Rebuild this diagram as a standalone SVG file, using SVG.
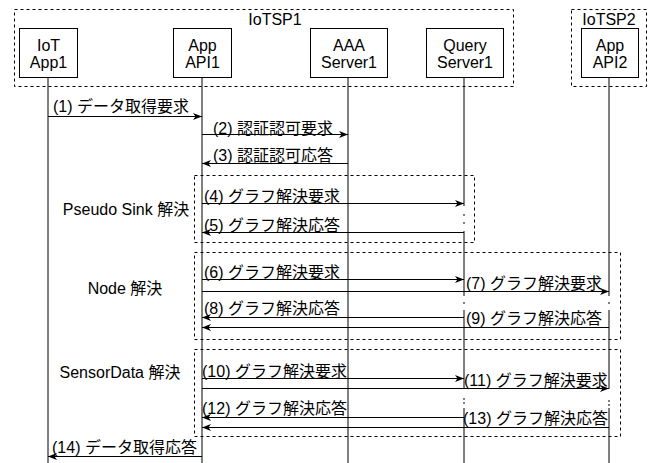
<svg xmlns="http://www.w3.org/2000/svg" width="654" height="463" viewBox="0 0 654 463">
<style>
text{font-family:"Liberation Sans","Noto Sans CJK JP",sans-serif;font-size:16px;fill:#000}
.c{text-anchor:middle}
.box{fill:#fff;stroke:#000;stroke-width:1}
.grp{fill:none;stroke:#000;stroke-width:1;stroke-dasharray:3 3}
.life{stroke:#000;stroke-width:1;fill:none}
.msg{stroke:#000;stroke-width:1;fill:none;marker-end:url(#ah)}
</style>
<defs>
<marker id="ah" markerUnits="userSpaceOnUse" markerWidth="10" markerHeight="8" refX="9" refY="3.5" orient="auto">
<path d="M0,0 L9,3.5 L0,7 L2.5,3.5 z" fill="#000"/>
</marker>
</defs>
<rect width="654" height="463" fill="#fff"/>
<g id="groups">
<rect class="grp" x="14.5" y="9.5" width="499" height="77"/>
<text class="c" x="275" y="25">IoTSP1</text>
<rect class="grp" x="571.5" y="9.5" width="75" height="77"/>
<text class="c" x="609" y="25">IoTSP2</text>
<rect class="grp" x="194.5" y="175.5" width="280" height="67"/>
<rect class="grp" x="194.5" y="252.5" width="426" height="87"/>
<rect class="grp" x="194.5" y="349.5" width="426" height="87"/>
<text class="c" x="126" y="215">Pseudo Sink 解決</text>
<text class="c" x="125" y="294">Node 解決</text>
<text class="c" x="120" y="378">SensorData 解決</text>
</g>
<g id="lifelines">
<line class="life" x1="48" y1="77" x2="48" y2="463"/>
<line class="life" x1="202" y1="77" x2="202" y2="463"/>
<line class="life" x1="348" y1="77" x2="348" y2="463"/>
<path class="life" d="M464,77 V206 M464,214 V216 M464,222 V224 M464,231 V296 M464,302 V304 M464,310 V389 M464,398 V400 M464,402 V404 M464,408 V463"/>
<path class="life" d="M609,77 V296 M609,302 V304 M609,310 V389 M609,400 V402 M609,404 V406 M609,408 V463"/>
</g>
<g id="iot-app1">
<rect class="box" x="19.5" y="28.5" width="58" height="49"/>
<text class="c" x="48.5" y="51">IoT</text>
<text class="c" x="48.5" y="68">App1</text>
</g>
<g id="app-api1">
<rect class="box" x="173.5" y="28.5" width="58" height="49"/>
<text class="c" x="202.5" y="51">App</text>
<text class="c" x="202.5" y="68">API1</text>
</g>
<g id="aaa-server1">
<rect class="box" x="310.5" y="28.5" width="77" height="49"/>
<text class="c" x="349" y="51">AAA</text>
<text class="c" x="349" y="68">Server1</text>
</g>
<g id="query-server1">
<rect class="box" x="426.5" y="28.5" width="77" height="49"/>
<text class="c" x="465" y="51">Query</text>
<text class="c" x="465" y="68">Server1</text>
</g>
<g id="app-api2">
<rect class="box" x="581.5" y="28.5" width="57" height="49"/>
<text class="c" x="610" y="51">App</text>
<text class="c" x="610" y="68">API2</text>
</g>
<g id="connectors">
<line class="msg" x1="48" y1="116.5" x2="202" y2="116.5"/>
<text x="53" y="112">(1) データ取得要求</text>
<line class="msg" x1="202" y1="134.5" x2="348" y2="134.5"/>
<text x="213" y="134">(2) 認証認可要求</text>
<line class="msg" x1="348" y1="163.5" x2="202" y2="163.5"/>
<text x="213" y="161">(3) 認証認可応答</text>
<line class="msg" x1="202" y1="203.5" x2="464" y2="203.5"/>
<text x="204" y="202">(4) グラフ解決要求</text>
<line class="msg" x1="464" y1="232.5" x2="202" y2="232.5"/>
<text x="204" y="231">(5) グラフ解決応答</text>
<line class="msg" x1="202" y1="279.5" x2="464" y2="279.5"/>
<text x="204" y="278">(6) グラフ解決要求</text>
<line class="msg" x1="202" y1="291.5" x2="609" y2="291.5"/>
<text x="466" y="289">(7) グラフ解決要求</text>
<line class="msg" x1="464" y1="317.5" x2="202" y2="317.5"/>
<text x="204" y="314">(8) グラフ解決応答</text>
<line class="msg" x1="609" y1="327.5" x2="202" y2="327.5"/>
<text x="466" y="324">(9) グラフ解決応答</text>
<line class="msg" x1="202" y1="378.5" x2="464" y2="378.5"/>
<text x="202" y="377">(10) グラフ解決要求</text>
<line class="msg" x1="202" y1="388.5" x2="609" y2="388.5"/>
<text x="464" y="386">(11) グラフ解決要求</text>
<line class="msg" x1="464" y1="417.5" x2="202" y2="417.5"/>
<text x="202" y="414">(12) グラフ解決応答</text>
<line class="msg" x1="609" y1="427.5" x2="202" y2="427.5"/>
<text x="463" y="424">(13) グラフ解決応答</text>
<line class="msg" x1="202" y1="456.5" x2="48" y2="456.5"/>
<text x="52" y="453">(14) データ取得応答</text>
</g>
</svg>
